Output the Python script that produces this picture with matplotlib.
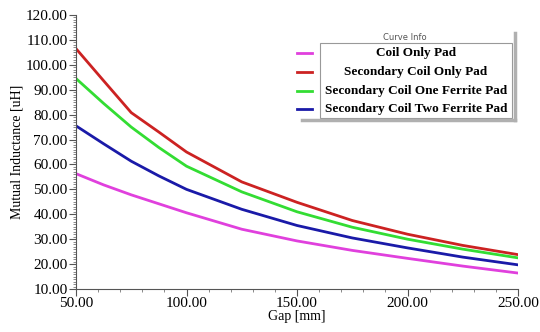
import matplotlib
matplotlib.use("Agg")
import matplotlib.pyplot as plt
from matplotlib.ticker import MultipleLocator, FormatStrFormatter
from matplotlib.lines import Line2D
from matplotlib.patches import Rectangle

gap = [50, 62.5, 75, 87.5, 100, 125, 150, 175, 200, 225, 250]
coil_only = [56.3, 51.8, 47.8, 44.2, 40.6, 34.0, 29.3, 25.5, 22.3, 19.2, 16.4]
sec_coil_only = [106.5, 93.6, 80.8, 73.0, 65.0, 53.0, 44.8, 37.5, 32.0, 27.5, 23.8]
sec_one_ferrite = [94.5, 84.5, 75.0, 66.8, 59.3, 49.0, 41.0, 34.8, 30.0, 26.0, 22.5]
sec_two_ferrite = [75.5, 68.3, 61.3, 55.4, 50.0, 42.0, 35.5, 30.5, 26.5, 22.8, 19.7]

labels = ["Coil Only Pad", "Secondary Coil Only Pad",
          "Secondary Coil One Ferrite Pad", "Secondary Coil Two Ferrite Pad"]
colors = ["#E040DD", "#CC2222", "#33DD33", "#1A1AA8"]
series = [coil_only, sec_coil_only, sec_one_ferrite, sec_two_ferrite]

plt.rcParams['font.family'] = ['Liberation Serif', 'DejaVu Serif']

fig = plt.figure(figsize=(5.4, 3.32), dpi=100)
ax = fig.add_axes([76/540, 1-289/332, (518-76)/540, (289-15)/332])

for s, c in zip(series, colors):
    ax.plot(gap, s, color=c, lw=2)

ax.set_xlim(50, 250)
ax.set_ylim(10, 120)
ax.xaxis.set_major_locator(MultipleLocator(50))
ax.xaxis.set_minor_locator(MultipleLocator(10))
ax.yaxis.set_major_locator(MultipleLocator(10))
ax.yaxis.set_minor_locator(MultipleLocator(1))
ax.xaxis.set_major_formatter(FormatStrFormatter('%.2f'))
ax.yaxis.set_major_formatter(FormatStrFormatter('%.2f'))
ax.tick_params(which='major', direction='out', length=5, width=0.8, labelsize=11, color='#555555')
ax.tick_params(which='minor', direction='out', length=2.5, width=0.6, color='#777777')
ax.tick_params(axis='x', pad=1)
ax.tick_params(axis='y', pad=1)
for sp in ['top', 'right']:
    ax.spines[sp].set_visible(False)
for sp in ['left', 'bottom']:
    ax.spines[sp].set_color('#555555')

ax.set_xlabel("Gap [mm]", fontsize=10, labelpad=0)
ax.set_ylabel("Mutual Inductance [uH]", fontsize=10, labelpad=2)

# Legend panel (figure pixel coords converted)
def fx(px):
    return px / 540
def fy(py):
    return 1 - py / 332

# shadow frame
fig.add_artist(Line2D([fx(515), fx(515)], [fy(33), fy(120)], color='#b0b0b0', lw=2.5))
fig.add_artist(Line2D([fx(302), fx(515)], [fy(120), fy(120)], color='#b0b0b0', lw=2.5))
fig.add_artist(Rectangle((fx(320), fy(118)), fx(512) - fx(320), fy(43) - fy(118),
                         facecolor='white', edgecolor='#999999', lw=0.8))
fig.text(fx(405), fy(37), "Curve Info", fontsize=6, color='#555555',
         family=['DejaVu Sans'], ha='center', va='center')
rows = [53, 72, 91, 109]
for lab, c, r in zip(labels, colors, rows):
    fig.add_artist(Line2D([fx(297), fx(312)], [fy(r), fy(r)], color=c, lw=2))
    fig.text(fx(416), fy(r), lab, fontsize=9.5, fontweight='bold',
             ha='center', va='center')

fig.savefig("out.png", dpi=100)
